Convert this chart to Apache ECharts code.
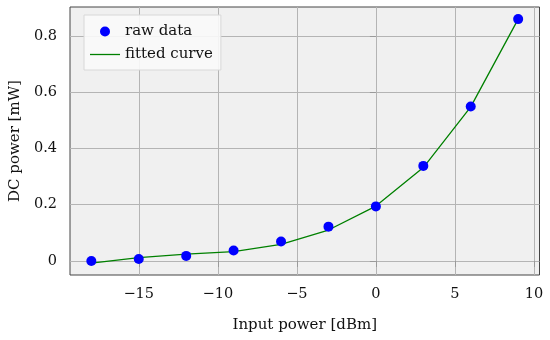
<!DOCTYPE html>
<html>
<head>
<meta charset="utf-8">
<script src="https://cdn.jsdelivr.net/npm/echarts@6/dist/echarts.min.js"></script>
<style>html,body{margin:0;padding:0;background:#fff}#c{width:550px;height:340px}</style>
</head>
<body>
<div id="c"></div>
<script>
const inputPower = [-18, -15, -12, -9, -6, -3, 0, 3, 6, 9];
const rawData = [0.0, 0.007, 0.018, 0.037, 0.069, 0.122, 0.194, 0.338, 0.549, 0.86];
const fittedCurve = [-0.008, 0.012, 0.024, 0.033, 0.059, 0.11, 0.195, 0.332, 0.548, 0.86];
const xTicks = [-15, -10, -5, 0, 5, 10];
const yTicks = [0, 0.2, 0.4, 0.6, 0.8];

const FONT = 'DejaVu Serif';
const chart = echarts.init(document.getElementById('c'), null, {renderer: 'canvas'});
const fmt = v => String(v).replace('-', '\u2212');
chart.setOption({
  animation: false,
  textStyle: {fontFamily: FONT},
  grid: {left: 70, right: 10.5, top: 7, bottom: 65, show: true, backgroundColor: '#f0f0f0', borderColor: '#444', borderWidth: 1},
  legend: {
    orient: 'vertical', left: 84, top: 15,
    backgroundColor: 'rgba(250,250,250,0.9)', borderColor: '#d8d8d8', borderWidth: 1,
    padding: [9, 8, 8, 6], itemGap: 8, itemWidth: 30, itemHeight: 10,
    textStyle: {fontFamily: FONT, fontSize: 15, color: '#111'},
    data: [
      {name: 'raw data', icon: 'circle'},
      {name: 'fitted curve', icon: 'path://M0,0H30V1.3H0Z'}
    ]
  },
  xAxis: {
    type: 'value', min: -19.35, max: 10.35,
    name: 'Input power [dBm]', nameLocation: 'middle', nameGap: 43,
    nameTextStyle: {fontFamily: FONT, fontSize: 15, color: '#111'},
    axisLine: {show: false},
    axisTick: {show: true, customValues: xTicks, length: 6, lineStyle: {color: '#999'}},
    axisLabel: {customValues: xTicks, formatter: fmt, fontFamily: FONT, fontSize: 14.5, color: '#111', margin: 12},
    splitLine: {show: true, lineStyle: {color: '#b4b4b4', width: 1}}
  },
  yAxis: {
    type: 'value', min: -0.05, max: 0.903,
    name: 'DC power [mW]', nameLocation: 'middle', nameGap: 42,
    nameTextStyle: {fontFamily: FONT, fontSize: 15, color: '#111'},
    axisLine: {show: false},
    axisTick: {show: true, customValues: yTicks, length: 6, lineStyle: {color: '#999'}},
    axisLabel: {customValues: yTicks, fontFamily: FONT, fontSize: 14.5, color: '#111', margin: 13},
    splitLine: {show: true, lineStyle: {color: '#b4b4b4', width: 1}}
  },
  series: [
    {name: 'fitted curve', type: 'line', data: inputPower.map((x, i) => [x, fittedCurve[i]]),
     symbol: 'none', lineStyle: {color: '#008000', width: 1.3}, itemStyle: {color: '#008000'}, z: 2},
    {name: 'raw data', type: 'scatter', data: inputPower.map((x, i) => [x, rawData[i]]),
     symbolSize: 10, itemStyle: {color: '#0000ff', opacity: 1}, z: 3}
  ]
});
</script>
</body>
</html>
